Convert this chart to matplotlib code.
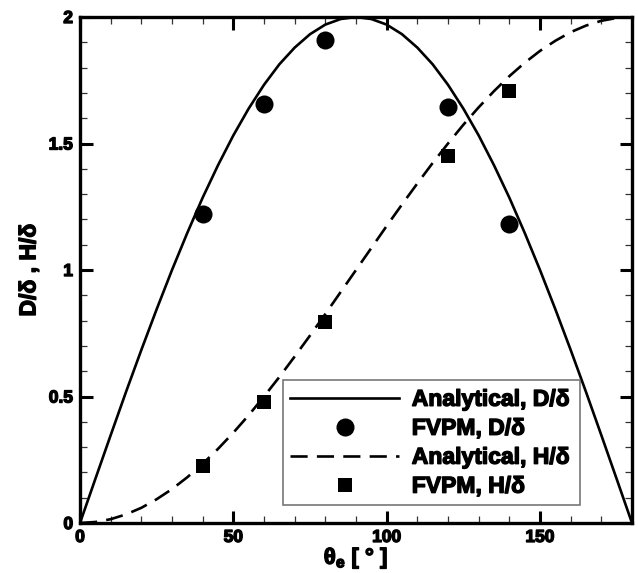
import matplotlib
matplotlib.use("Agg")
import matplotlib.pyplot as plt
import matplotlib.patheffects as pe
from matplotlib.ticker import MultipleLocator, FixedLocator

plt.rcParams['font.family'] = ['Liberation Sans', 'DejaVu Sans']
plt.rcParams['font.weight'] = 'bold'
plt.rcParams['mathtext.fontset'] = 'custom'
plt.rcParams['mathtext.rm'] = 'Liberation Sans'
plt.rcParams['mathtext.it'] = 'Liberation Sans:bold'
plt.rcParams['mathtext.bf'] = 'Liberation Sans:bold'

# Analytical curves, read every 5 degrees
theta_curve = [0, 5, 10, 15, 20, 25, 30, 35, 40, 45, 50, 55, 60, 65, 70, 75, 80, 85, 90,
               95, 100, 105, 110, 115, 120, 125, 130, 135, 140, 145, 150, 155, 160, 165, 170, 175, 180]
D_analytical = [0.0, 0.174, 0.347, 0.518, 0.684, 0.845, 1.0, 1.147, 1.286, 1.414, 1.532, 1.638,
                1.732, 1.813, 1.879, 1.932, 1.970, 1.992, 2.0, 1.992, 1.970, 1.932, 1.879, 1.813,
                1.732, 1.638, 1.532, 1.414, 1.286, 1.147, 1.0, 0.845, 0.684, 0.518, 0.347, 0.174, 0.0]
H_analytical = [0.0, 0.004, 0.015, 0.034, 0.060, 0.094, 0.134, 0.181, 0.234, 0.293, 0.357, 0.426,
                0.5, 0.577, 0.658, 0.741, 0.826, 0.913, 1.0, 1.087, 1.174, 1.259, 1.342, 1.423,
                1.5, 1.574, 1.643, 1.707, 1.766, 1.819, 1.866, 1.906, 1.940, 1.966, 1.985, 1.996, 2.0]

# FVPM results
theta_fvpm = [40, 60, 80, 120, 140]
D_fvpm = [1.22, 1.656, 1.91, 1.643, 1.183]
H_fvpm = [0.224, 0.48, 0.793, 1.449, 1.708]

x_ticks = [0, 50, 100, 150]
x_ticklabels = ['0', '50', '100', '150']
y_ticks = [0, 0.5, 1, 1.5, 2]
y_ticklabels = ['0', '0.5', '1', '1.5', '2']

heavy = [pe.withStroke(linewidth=1.0, foreground='black')]

fig = plt.figure(figsize=(6.38, 5.73), dpi=100)
ax = fig.add_axes([80/638, 1-523/573, 552/638, 506/573])

ax.plot(theta_curve, D_analytical, color='black', lw=1.9, label='Analytical, D/δ')
ax.plot(theta_fvpm, D_fvpm, 'o', color='black', ms=13, mew=0, label='FVPM, D/δ')
ax.plot(theta_curve, H_analytical, color='black', lw=1.9, dashes=(6.5, 3.5), label='Analytical, H/δ')
ax.plot(theta_fvpm, H_fvpm, 's', color='black', ms=10.5, mew=0, label='FVPM, H/δ')

ax.set_xlim(0, 180)
ax.set_ylim(0, 2)
ax.xaxis.set_major_locator(FixedLocator(x_ticks))
ax.set_xticklabels(x_ticklabels)
ax.yaxis.set_major_locator(FixedLocator(y_ticks))
ax.set_yticklabels(y_ticklabels)
ax.xaxis.set_minor_locator(MultipleLocator(10))
ax.yaxis.set_minor_locator(MultipleLocator(0.1))
ax.tick_params(which='both', direction='in', top=True, right=True, labelsize=12.5, pad=5)
ax.tick_params(which='major', length=9, width=2.2)
ax.tick_params(which='minor', length=5, width=0.9, color='#333333')
for lbl in ax.get_xticklabels() + ax.get_yticklabels():
    lbl.set_fontweight('bold')
    lbl.set_path_effects(heavy)
for s in ax.spines.values():
    s.set_linewidth(2.4)

xl = ax.set_xlabel(r'$\mathregular{\theta_e}$ [ ° ]', fontsize=16, fontweight='bold', labelpad=0)
yl = ax.set_ylabel('D/δ , H/δ', fontsize=16.5, fontweight='bold', labelpad=6)
xl.set_path_effects(heavy)
yl.set_path_effects(heavy)

leg = ax.legend(loc='lower left', bbox_to_anchor=(203/552, 18/506, 297/552, 128/506), mode='expand',
                frameon=True, fancybox=False, edgecolor='#555555', fontsize=16.5,
                handlelength=4.75, handletextpad=0.55, borderpad=0.32, labelspacing=0.26,
                markerfirst=True, borderaxespad=0)
leg.get_frame().set_linewidth(1.2)
for t in leg.get_texts():
    t.set_fontweight('bold')
    t.set_path_effects(heavy)

fig.savefig('out.png', dpi=100)
